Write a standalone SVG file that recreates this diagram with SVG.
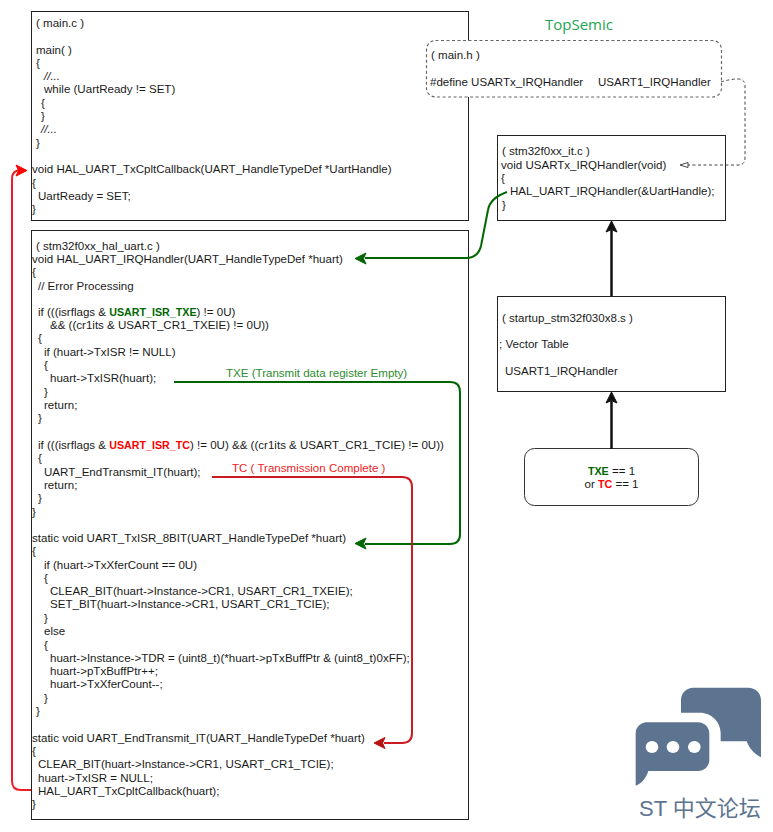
<svg xmlns="http://www.w3.org/2000/svg" width="773" height="832" viewBox="0 0 773 832">
<style>
text{font-family:"Liberation Sans",Arial,sans-serif;font-size:11.55px;fill:#1a1a1a;white-space:pre}
.box{fill:#fff;stroke:#222;stroke-width:1}
.dash{fill:#fff;stroke:#666;stroke-width:1.2;stroke-dasharray:3 2.5}
.g{fill:#006600;font-weight:bold;font-size:10.7px}
.r{fill:#ff0000;font-weight:bold;font-size:10.7px}
.line{fill:none;stroke-width:2}
</style>
<rect width="773" height="832" fill="#fff"/>
<g id="node-main-c">
<rect class="box" x="31.500" y="11.500" width="437" height="209"/>
<text x="36" y="27">( main.c )</text>
<text x="36" y="54">main( )</text>
<text x="36" y="67">{</text>
<text x="44" y="80" font-style="italic">//...</text>
<text x="44" y="93">while (UartReady != SET)</text>
<text x="41" y="107">{</text>
<text x="41" y="120">}</text>
<text x="41" y="133" font-style="italic">//...</text>
<text x="36" y="147">}</text>
<text x="32" y="173">void HAL_UART_TxCpltCallback(UART_HandleTypeDef *UartHandle)</text>
<text x="32" y="187">{</text>
<text x="38" y="200">UartReady = SET;</text>
<text x="32" y="213">}</text>
</g>
<g id="node-hal-uart">
<rect class="box" x="31.500" y="230.500" width="437" height="589"/>
<text x="36" y="250">( stm32f0xx_hal_uart.c )</text>
<text x="32" y="263">void HAL_UART_IRQHandler(UART_HandleTypeDef *huart)</text>
<text x="32" y="276">{</text>
<text x="38" y="290">// Error Processing</text>
<text x="38" y="316">if (((isrflags &amp; <tspan class="g">USART_ISR_TXE</tspan>) != 0U)</text>
<text x="50" y="329">&amp;&amp; ((cr1its &amp; USART_CR1_TXEIE) != 0U))</text>
<text x="38" y="342">{</text>
<text x="44" y="356">if (huart-&gt;TxISR != NULL)</text>
<text x="44" y="369">{</text>
<text x="50" y="382">huart-&gt;TxISR(huart);</text>
<text x="44" y="396">}</text>
<text x="44" y="409">return;</text>
<text x="38" y="422">}</text>
<text x="38" y="449">if (((isrflags &amp; <tspan class="r">USART_ISR_TC</tspan>) != 0U) &amp;&amp; ((cr1its &amp; USART_CR1_TCIE) != 0U))</text>
<text x="38" y="462">{</text>
<text x="44" y="476">UART_EndTransmit_IT(huart);</text>
<text x="44" y="489">return;</text>
<text x="38" y="502">}</text>
<text x="32" y="516">}</text>
<text x="32" y="542">static void UART_TxISR_8BIT(UART_HandleTypeDef *huart)</text>
<text x="32" y="555">{</text>
<text x="44" y="569">if (huart-&gt;TxXferCount == 0U)</text>
<text x="44" y="582">{</text>
<text x="50" y="595">CLEAR_BIT(huart-&gt;Instance-&gt;CR1, USART_CR1_TXEIE);</text>
<text x="50" y="608">SET_BIT(huart-&gt;Instance-&gt;CR1, USART_CR1_TCIE);</text>
<text x="44" y="622">}</text>
<text x="44" y="635">else</text>
<text x="44" y="649">{</text>
<text x="50" y="662">huart-&gt;Instance-&gt;TDR = (uint8_t)(*huart-&gt;pTxBuffPtr &amp; (uint8_t)0xFF);</text>
<text x="50" y="675">huart-&gt;pTxBuffPtr++;</text>
<text x="50" y="688">huart-&gt;TxXferCount--;</text>
<text x="44" y="702">}</text>
<text x="36" y="715">}</text>
<text x="32" y="742">static void UART_EndTransmit_IT(UART_HandleTypeDef *huart)</text>
<text x="32" y="755">{</text>
<text x="38" y="768">CLEAR_BIT(huart-&gt;Instance-&gt;CR1, USART_CR1_TCIE);</text>
<text x="38" y="782">huart-&gt;TxISR = NULL;</text>
<text x="38" y="795">HAL_UART_TxCpltCallback(huart);</text>
<text x="32" y="808">}</text>
</g>
<g id="node-main-h">
<rect class="dash" x="426.500" y="40.500" width="295" height="56.500" rx="9"/>
<text x="431" y="59">( main.h )</text>
<text x="430" y="86">#define USARTx_IRQHandler</text>
<text x="598" y="86">USART1_IRQHandler</text>
</g>
<g id="node-it">
<rect class="box" x="497.500" y="135.500" width="228" height="85"/>
<text x="502" y="155">( stm32f0xx_it.c )</text>
<text x="501" y="169">void USARTx_IRQHandler(void)</text>
<text x="501" y="182">{</text>
<text x="510" y="195">HAL_UART_IRQHandler(&amp;UartHandle);</text>
<text x="502" y="209">}</text>
</g>
<g id="node-startup">
<rect class="box" x="497.500" y="296.500" width="228" height="95"/>
<text x="502" y="322">( startup_stm32f030x8.s )</text>
<text x="499" y="348">; Vector Table</text>
<text x="505" y="375">USART1_IRQHandler</text>
</g>
<g id="node-flags">
<rect x="524.500" y="448.500" width="174" height="57" rx="10" fill="#fff" stroke="#333" stroke-width="1"/>
<text x="611.500" y="475" text-anchor="middle"><tspan class="g">TXE</tspan> == 1</text>
<text x="611.500" y="488" text-anchor="middle">or <tspan class="r">TC</tspan> == 1</text>
</g>
<g id="connectors">
<path class="line" stroke="#006600" d="M507 192Q490 198 488 210L481 246Q478 258 466 258L365 258"/>
<path d="M355 258.500L366 253L363.500 258.500L366 264Z" fill="#006600" stroke="#006600"/>
<path class="line" stroke="#006600" d="M174 382L450 382Q460 382 460 392L460 534Q460 544 450 544L365 544"/>
<path d="M355 543.500L366 538L363.500 543.500L366 549Z" fill="#006600" stroke="#006600"/>
<path class="line" stroke="#cc1a22" d="M212 477L402 477Q412 477 412 487L412 733Q412 743 402 743L384 743"/>
<path d="M374 743L385 737.500L382.500 743L385 748.500Z" fill="#b80f0f" stroke="#b80f0f"/>
<path class="line" stroke="#ee1c25" d="M31 790L21 790Q12 790 12 781L12 179Q12 170 21 170"/>
<path d="M27 170.500L16 165L18.500 170.500L16 176Z" fill="#ff0000" stroke="#ff0000"/>
<path fill="none" stroke="#444" stroke-width="1" stroke-dasharray="3 2.500" d="M721 82Q730 79 738 79Q745 79 745 86L745 158Q745 165 738 165L688 165"/>
<path d="M680 165L688 162.500L688 167.500Z" fill="#fff" stroke="#444"/>
<path fill="none" stroke="#111" stroke-width="2.500" d="M611.500 296L611.500 230"/>
<path d="M611.500 221L617 232L611.500 229.500L606 232Z" fill="#111" stroke="#111"/>
<path fill="none" stroke="#111" stroke-width="2.500" d="M611.500 449L611.500 401"/>
<path d="M611.500 392L617 403L611.500 400.500L606 403Z" fill="#111" stroke="#111"/>
<text x="226" y="377" style="fill:#2e8b2e">TXE (Transmit data register Empty)</text>
<text x="232" y="472" style="fill:#f01c24">TC ( Transmission Complete )</text>
</g>
<text x="545" y="30" style="font-family:'Open Sans','Noto Sans',sans-serif;font-size:15px;fill:#22a650">TopSemic</text>
<g id="watermark">
<g transform="translate(620 670) scale(0.3333)" fill="#5d7490">
<path d="M183 128V90C183 68 200 53 220 53H385C406 53 423 68 423 90V262C400 250 388 234 380 214H302V190C302 155 274 128 240 128Z"/>
<path d="M47 347V190C47 172 62 157 80 157H235C253 157 268 172 268 190V270C268 288 253 303 235 303H85C78 325 65 340 47 347Z"/>
<ellipse cx="96" cy="231" rx="19" ry="18" fill="#fff"/>
<ellipse cx="159" cy="231" rx="19" ry="18" fill="#fff"/>
<ellipse cx="223" cy="231" rx="19" ry="18" fill="#fff"/>
</g>
<text x="639" y="816" style="font-family:'Liberation Sans','Noto Sans CJK SC',sans-serif;font-size:22px;fill:#5d7490">ST 中文论坛</text>
</g>
</svg>
